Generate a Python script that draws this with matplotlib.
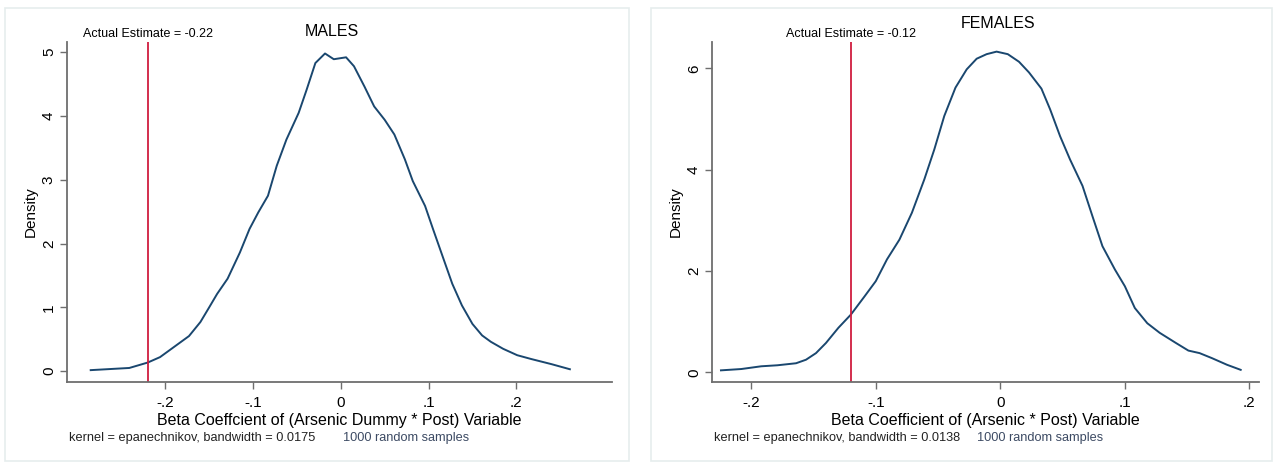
import numpy as np
import matplotlib
matplotlib.use("Agg")
import matplotlib.pyplot as plt
from matplotlib.patches import Rectangle

plt.rcParams['font.family'] = ['Liberation Sans', 'DejaVu Sans']

# kernel density of the bootstrapped coefficients, males
male_x = [-0.285, -0.241, -0.220, -0.206, -0.187, -0.173, -0.160, -0.150, -0.141,
          -0.129, -0.115, -0.104, -0.094, -0.083, -0.073, -0.062, -0.048, -0.039,
          -0.029, -0.018, -0.008, 0.006, 0.015, 0.027, 0.038, 0.050, 0.061, 0.073,
          0.082, 0.096, 0.105, 0.117, 0.127, 0.138, 0.150, 0.161, 0.171, 0.185,
          0.201, 0.217, 0.240, 0.261]
male_y = [0.016, 0.05, 0.135, 0.22, 0.41, 0.55, 0.77, 1.0, 1.21, 1.45, 1.86, 2.23,
          2.49, 2.75, 3.22, 3.63, 4.05, 4.41, 4.83, 4.98, 4.89, 4.92, 4.78, 4.46,
          4.15, 3.94, 3.71, 3.32, 2.98, 2.59, 2.23, 1.76, 1.37, 1.03, 0.74, 0.56,
          0.46, 0.35, 0.25, 0.19, 0.11, 0.03]

# same for females
female_x = [-0.2243, -0.208, -0.192, -0.179, -0.164, -0.156, -0.148, -0.140, -0.130,
            -0.120, -0.109, -0.100, -0.091, -0.081, -0.071, -0.061, -0.053, -0.045,
            -0.036, -0.027, -0.019, -0.011, -0.003, 0.006, 0.015, 0.023, 0.033,
            0.040, 0.048, 0.056, 0.066, 0.074, 0.082, 0.092, 0.100, 0.108, 0.118,
            0.128, 0.141, 0.151, 0.160, 0.170, 0.182, 0.193]
female_y = [0.04, 0.066, 0.12, 0.14, 0.18, 0.25, 0.38, 0.58, 0.88, 1.14, 1.50, 1.80,
            2.23, 2.62, 3.15, 3.81, 4.40, 5.06, 5.62, 5.98, 6.19, 6.28, 6.33, 6.28,
            6.13, 5.92, 5.60, 5.19, 4.66, 4.20, 3.68, 3.08, 2.49, 2.03, 1.70, 1.27,
            0.97, 0.78, 0.58, 0.43, 0.38, 0.28, 0.15, 0.05]

male_est = -0.22
female_est = -0.12
x_ticks = [-0.2, -0.1, 0, 0.1, 0.2]
x_ticklabels = ['-.2', '-.1', '0', '.1', '.2']

navy = '#1a476f'
red = '#d01c3f'
axcol = '#6e6e6e'

fig = plt.figure(figsize=(12.75, 4.63), dpi=100)
W, H = 1275, 463


def box(x0, y0, x1, y1):
    return [x0 / W, 1 - y1 / H, (x1 - x0) / W, (y1 - y0) / H]


# light frames round each graph
for x0, x1 in [(5, 629), (651, 1272)]:
    fig.patches.append(Rectangle((x0 / W, 2 / H), (x1 - x0) / W, (455 - 2) / H,
                                 transform=fig.transFigure, fill=False,
                                 edgecolor='#e6eded', lw=1.2))


def panel(rect, xs, ys, est, xlim, ylim, yticks, title, title_x, title_y,
          est_y, xlabel, bw, note2_x):
    ax = fig.add_axes(rect)
    ax.plot(xs, ys, color=navy, lw=1.4)
    ax.axvline(est, color=red, lw=1.3)
    ax.set_xlim(xlim)
    ax.set_ylim(ylim)
    for s in ['top', 'right']:
        ax.spines[s].set_visible(False)
    for s in ['left', 'bottom']:
        ax.spines[s].set_color(axcol)
        ax.spines[s].set_linewidth(1.3)
    ax.set_xticks(x_ticks)
    ax.set_xticklabels(x_ticklabels, fontsize=11)
    ax.set_yticks(yticks)
    ax.set_yticklabels([str(t) for t in yticks], fontsize=11, rotation=90, va='center')
    ax.tick_params(direction='out', length=5, color=axcol, width=1, pad=3)
    ax.tick_params(axis='x', pad=5)
    ax.set_xlabel(xlabel, fontsize=11.5, labelpad=2)
    ax.set_ylabel('Density', fontsize=11, labelpad=3)
    ax.text(est, est_y, 'Actual Estimate = %.2f' % est, transform=ax.get_xaxis_transform(),
            ha='center', va='bottom', fontsize=9)
    fig.text(title_x / W, 1 - title_y / H, title, ha='center', va='center', fontsize=11.5)
    fig.text((rect[0] * W + 2) / W, 1 - 438 / H,
             'kernel = epanechnikov, bandwidth = %s' % bw, ha='left', va='center',
             fontsize=9.2, color='#222222')
    fig.text(note2_x / W, 1 - 438 / H, '1000 random samples', ha='left', va='center',
             fontsize=9.2, color='#3c4a63')
    return ax


panel(box(67, 42, 612, 382), male_x, male_y, male_est, (-0.312, 0.309), (-0.17, 5.16),
      [0, 1, 2, 3, 4, 5], 'MALES', 332, 31, 1.005,
      'Beta Coeffcient of (Arsenic Dummy * Post) Variable', '0.0175', 343)
panel(box(712, 42, 1259, 382), female_x, female_y, female_est, (-0.2315, 0.2077),
      (-0.19, 6.52), [0, 2, 4, 6], 'FEMALES', 998, 24, 1.005,
      'Beta Coefficient of (Arsenic * Post) Variable', '0.0138', 977)

fig.savefig('out.png', dpi=100)
